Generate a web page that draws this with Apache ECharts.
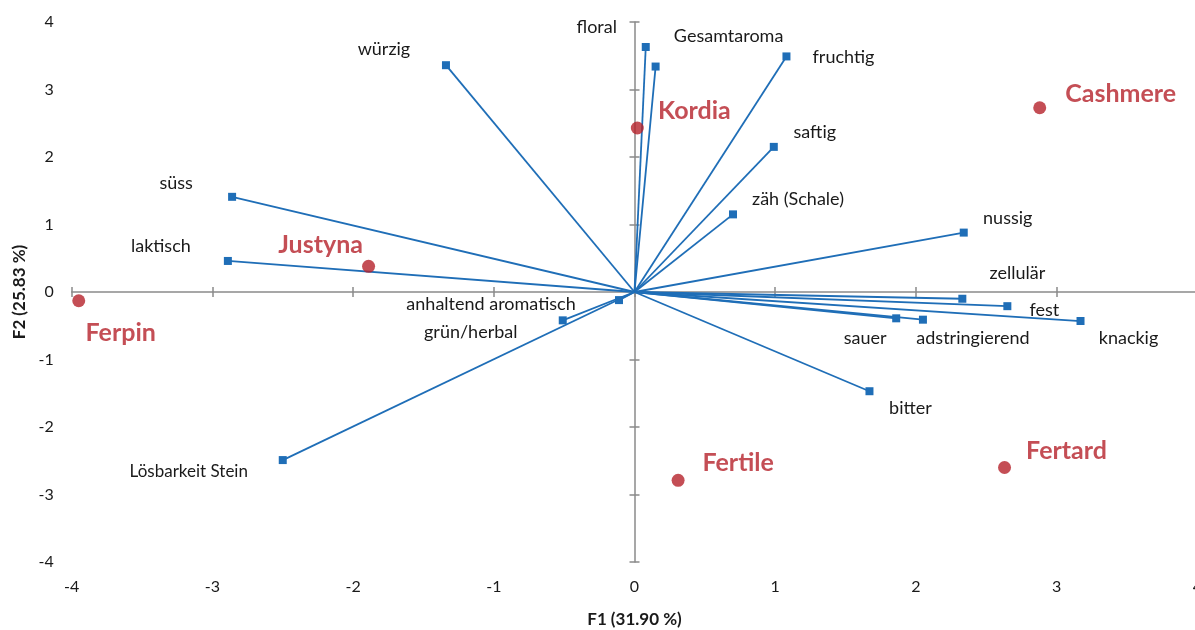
<!DOCTYPE html>
<html>
<head>
<meta charset="utf-8">
<script src="https://cdn.jsdelivr.net/npm/echarts@6/dist/echarts.min.js"></script>
<style>html,body{margin:0;padding:0;background:#fff}#c{width:1195px;height:630px}</style>
</head>
<body>
<div id="c"></div>
<script>
// Variables (blue vectors)
var varNames = ['würzig','floral','Gesamtaroma','fruchtig','saftig','zäh (Schale)','nussig','zellulär','fest','knackig','adstringierend','sauer','bitter','Lösbarkeit Stein','grün/herbal','anhaltend aromatisch','süss','laktisch'];
var varF1 = [-1.34, 0.08, 0.15, 1.08, 0.99, 0.70, 2.34, 2.33, 2.65, 3.17, 2.05, 1.86, 1.67, -2.50, -0.51, -0.11, -2.86, -2.89];
var varF2 = [3.36, 3.63, 3.34, 3.49, 2.15, 1.15, 0.88, -0.10, -0.21, -0.43, -0.41, -0.39, -1.47, -2.49, -0.42, -0.12, 1.41, 0.46];
// Observations (red points)
var obsNames = ['Justyna','Ferpin','Kordia','Cashmere','Fertile','Fertard'];
var obsF1 = [-1.89, -3.95, 0.02, 2.88, 0.31, 2.63];
var obsF2 = [0.38, -0.13, 2.43, 2.73, -2.79, -2.60];
// Axis ticks
var axisMin = -4, axisMax = 4, axisStep = 1;
var xName = 'F1 (31.90 %)', yName = 'F2 (25.83 %)';

// label placement (style only)
var varLabelOffset = {
  'würzig':[-62,-16],'floral':[-49,-20],'Gesamtaroma':[73,-30],'fruchtig':[57,1],'saftig':[41,-15],
  'zäh (Schale)':[65,-15],'nussig':[44,-14],'zellulär':[55,-26],'fest':[37,4],'knackig':[48,17],
  'adstringierend':[50,19],'sauer':[-31,20],'bitter':[41,17],'Lösbarkeit Stein':[-94,11],
  'grün/herbal':[-92,12],'anhaltend aromatisch':[-128,4],'süss':[-56,-14],'laktisch':[-67,-15]
};
var varLabelSize = {'Lösbarkeit Stein':17};
var obsLabelOffset = {
  'Justyna':[-48,-21],'Ferpin':[42,32],'Kordia':[57,-17],'Cashmere':[81,-14],'Fertile':[60,-17],'Fertard':[62,-17]
};

var FONT = 'Lato';
var BLUE = '#1f6eb7', RED = '#b5222a', AXIS = '#8a8a8a', TXT = '#1a1a1a';

var chart = echarts.init(document.getElementById('c'), null, {renderer:'canvas'});

function baseAxis(extra){
  var a = {type:'value', min:axisMin, max:axisMax, interval:axisStep, splitLine:{show:false}};
  for (var k in extra) a[k] = extra[k];
  return a;
}
var xAxes = [
  baseAxis({position:'bottom', axisLine:{show:false, onZero:false}, axisTick:{show:false},
    axisLabel:{color:TXT, fontFamily:FONT, fontSize:16, margin:17},
    name:xName, nameLocation:'middle', nameGap:49,
    nameTextStyle:{color:TXT, fontFamily:FONT, fontSize:17, fontWeight:'bold'}}),
  baseAxis({position:'bottom', axisLine:{show:true, onZero:true, onZeroAxisIndex:1, lineStyle:{color:AXIS, width:1.5}},
    axisTick:{show:true, length:5, lineStyle:{color:AXIS, width:1.5}}, axisLabel:{show:false}}),
  baseAxis({position:'bottom', axisLine:{show:false, onZero:true, onZeroAxisIndex:2},
    axisTick:{show:true, inside:true, length:5, lineStyle:{color:AXIS, width:1.5}}, axisLabel:{show:false}})
];
var yAxes = [
  baseAxis({position:'left', axisLine:{show:false, onZero:false}, axisTick:{show:false},
    axisLabel:{color:TXT, fontFamily:FONT, fontSize:16, margin:18},
    name:yName, nameLocation:'middle', nameGap:43, nameRotate:90,
    nameTextStyle:{color:TXT, fontFamily:FONT, fontSize:17, fontWeight:'bold'}}),
  baseAxis({position:'left', axisLine:{show:true, onZero:true, onZeroAxisIndex:1, lineStyle:{color:AXIS, width:1.5}},
    axisTick:{show:true, length:5, lineStyle:{color:AXIS, width:1.5}}, axisLabel:{show:false}}),
  baseAxis({position:'left', axisLine:{show:false, onZero:true, onZeroAxisIndex:2},
    axisTick:{show:true, inside:true, length:5, lineStyle:{color:AXIS, width:1.5}}, axisLabel:{show:false}})
];

var series = [];
varNames.forEach(function(n, i){
  series.push({
    type:'line', name:n, xAxisIndex:0, yAxisIndex:0, z:2,
    symbol:'rect', symbolSize:8, showAllSymbol:true,
    lineStyle:{color:BLUE, width:1.8}, itemStyle:{color:BLUE},
    data:[
      {value:[0,0], symbol:'none'},
      {value:[varF1[i], varF2[i]], label:{show:true, position:'inside', offset:varLabelOffset[n],
        formatter:n, color:TXT, fontFamily:FONT, fontSize:varLabelSize[n]||18, align:'center', verticalAlign:'middle'}}
    ]
  });
});
series.push({
  type:'scatter', xAxisIndex:0, yAxisIndex:0, z:5,
  symbol:'circle', symbolSize:13, itemStyle:{color:RED},
  data: obsNames.map(function(n,i){
    return {name:n, value:[obsF1[i], obsF2[i]], label:{show:true, position:'inside', offset:obsLabelOffset[n],
      formatter:n, color:RED, fontFamily:FONT, fontSize:25, fontWeight:'bold', align:'center', verticalAlign:'middle'}};
  })
});

chart.setOption({
  animation:false,
  backgroundColor:'#fff',
  grid:{left:71.7, top:22, width:1125.6, height:540, containLabel:false, outerBoundsMode:'none'},
  xAxis:xAxes, yAxis:yAxes, series:series
});
</script>
</body>
</html>
